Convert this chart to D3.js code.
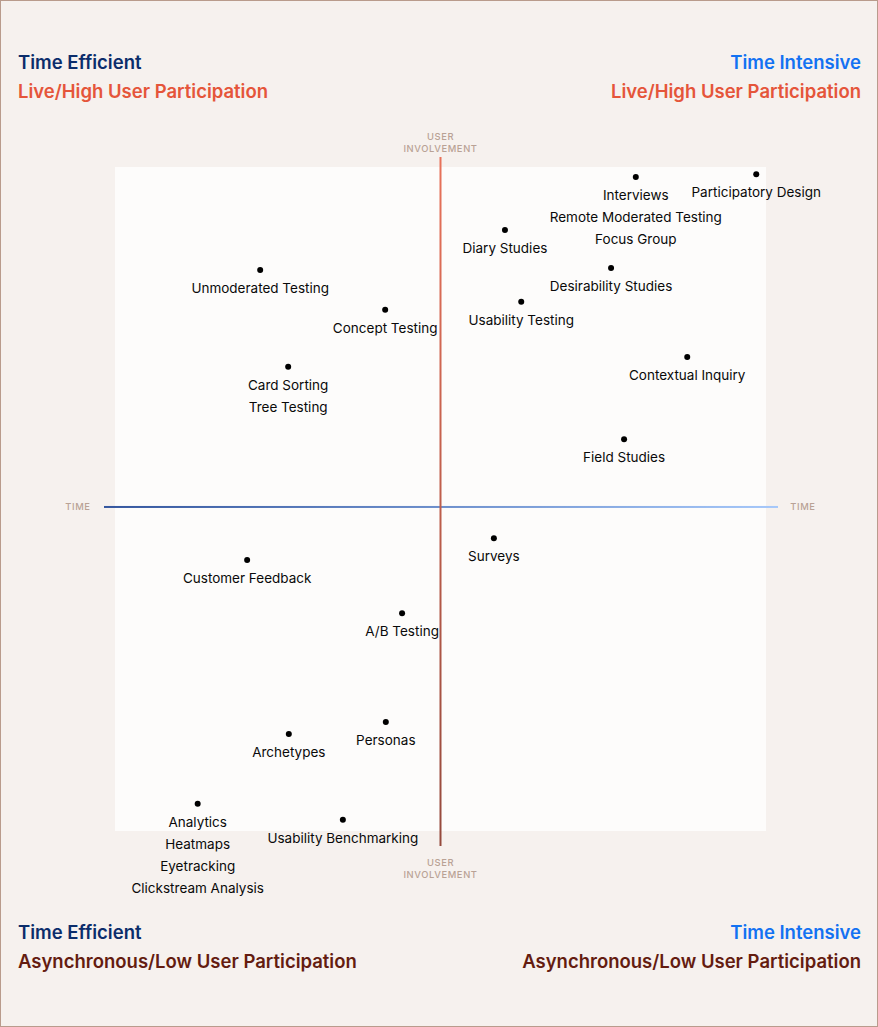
<!DOCTYPE html>
<html>
<head>
<meta charset="utf-8">
<script src="https://cdn.jsdelivr.net/npm/d3@7"></script>
<style>
  html, body { margin: 0; padding: 0; background: #F6F1EE; }
  svg { display: block; font-family: Inter, "Noto Sans", sans-serif; }
</style>
</head>
<body>
<svg width="878" height="1027"></svg>
<script>
// methods: label lines, x (time: efficient -> intensive), y (user involvement)
var methods = [
    ['Interviews', 'Remote Moderated Testing', 'Focus Group'],
    ['Participatory Design'],
    ['Diary Studies'],
    ['Desirability Studies'],
    ['Unmoderated Testing'],
    ['Usability Testing'],
    ['Concept Testing'],
    ['Card Sorting', 'Tree Testing'],
    ['Contextual Inquiry'],
    ['Field Studies'],
    ['Surveys'],
    ['Customer Feedback'],
    ['A/B Testing'],
    ['Personas'],
    ['Archetypes'],
    ['Analytics', 'Heatmaps', 'Eyetracking', 'Clickstream Analysis'],
    ['Usability Benchmarking']
]
var timeValues = [80.0, 98.5, 59.9, 76.2, 22.3, 62.4, 41.5, 26.6, 87.9, 78.2, 58.2, 20.3, 44.1, 41.6, 26.7, 12.7, 35.0]
var involvementValues = [98.5, 98.9, 90.5, 84.8, 84.5, 79.7, 78.5, 69.9, 71.4, 59.0, 44.1, 40.8, 32.8, 16.4, 14.6, 4.1, 1.7]

var xMid = 50
var yMid = 48.8

var svg = d3.select('svg')

// page border
svg.append('rect')
    .attr('x', 0.5)
    .attr('y', 0.5)
    .attr('width', 877)
    .attr('height', 1026)
    .attr('fill', '#F6F1EE')
    .attr('stroke', '#B99B8C')

var x = d3.scaleLinear().domain([0, 100]).range([115, 766])
var y = d3.scaleLinear().domain([0, 100]).range([831, 167])

// plot area
svg.append('rect')
    .attr('x', x(0))
    .attr('y', y(100))
    .attr('width', x(100) - x(0))
    .attr('height', y(0) - y(100))
    .attr('fill', '#FDFCFB')

var defs = svg.append('defs')
var gv = defs.append('linearGradient')
    .attr('id', 'gv')
    .attr('x1', 0).attr('y1', 0).attr('x2', 0).attr('y2', 1)
gv.append('stop').attr('offset', '0%').attr('stop-color', '#E8725A')
gv.append('stop').attr('offset', '100%').attr('stop-color', '#94493C')

var gh = defs.append('linearGradient')
    .attr('id', 'gh')
    .attr('x1', 0).attr('y1', 0).attr('x2', 1).attr('y2', 0)
gh.append('stop').attr('offset', '0%').attr('stop-color', '#34569E')
gh.append('stop').attr('offset', '100%').attr('stop-color', '#A6C8FA')

// axes (rects so gradients render on straight lines)
svg.append('rect')
    .attr('x', x(0) - 11)
    .attr('y', y(yMid) - 1)
    .attr('width', (x(100) + 12) - (x(0) - 11))
    .attr('height', 2)
    .attr('fill', 'url(#gh)')

svg.append('rect')
    .attr('x', x(xMid) - 1)
    .attr('y', y(100) - 10)
    .attr('width', 2)
    .attr('height', (y(0) + 15) - (y(100) - 10))
    .attr('fill', 'url(#gv)')

// axis labels
var axisColor = '#B9A295'
function axisLabel(lines, cx, cy) {
    var t = svg.append('text')
        .attr('text-anchor', 'middle')
        .style('font-size', '9.4px')
        .style('letter-spacing', '0.6px')
        .style('font-weight', 500)
        .attr('fill', axisColor)
    lines.forEach(function (l, i) {
        t.append('tspan')
            .attr('x', cx)
            .attr('y', cy + i * 12 + 3.5)
            .text(l)
    })
}
axisLabel(['USER', 'INVOLVEMENT'], x(xMid), 136)
axisLabel(['USER', 'INVOLVEMENT'], x(xMid), 862)
axisLabel(['TIME'], 78, y(yMid))
axisLabel(['TIME'], 803, y(yMid))

// points
var pts = methods.map(function (m, i) {
    return { lines: m, t: timeValues[i], u: involvementValues[i] }
})

var g = svg.append('g')
    .selectAll('g')
    .data(pts)
    .enter()
    .append('g')
    .attr('transform', function (d) { return 'translate(' + x(d.t) + ',' + y(d.u) + ')' })

g.append('circle')
    .attr('r', 3)
    .attr('fill', '#000')

g.append('text')
    .attr('text-anchor', 'middle')
    .style('font-size', '13.5px')
    .attr('fill', '#0A0A0A')
    .selectAll('tspan')
    .data(function (d) { return d.lines })
    .enter()
    .append('tspan')
    .attr('x', 0)
    .attr('y', function (d, i) { return 23 + i * 22 })
    .text(function (d) { return d })

// corner titles
var corners = [
    { a: 'start', x: 18, y: 62, t: 'Time Efficient', c: '#0B2D6B' },
    { a: 'start', x: 18, y: 91, t: 'Live/High User Participation', c: '#E5553A' },
    { a: 'end', x: 861, y: 62, t: 'Time Intensive', c: '#1372F2' },
    { a: 'end', x: 861, y: 91, t: 'Live/High User Participation', c: '#E5553A' },
    { a: 'start', x: 18, y: 932, t: 'Time Efficient', c: '#0B2D6B' },
    { a: 'start', x: 18, y: 961, t: 'Asynchronous/Low User Participation', c: '#641C10' },
    { a: 'end', x: 861, y: 932, t: 'Time Intensive', c: '#1372F2' },
    { a: 'end', x: 861, y: 961, t: 'Asynchronous/Low User Participation', c: '#641C10' }
]
svg.selectAll('.corner')
    .data(corners)
    .enter()
    .append('text')
    .attr('class', 'corner')
    .attr('x', function (d) { return d.x })
    .attr('y', function (d) { return d.y + 7 })
    .attr('text-anchor', function (d) { return d.a })
    .style('font-size', '18.5px')
    .style('font-weight', 600)
    .attr('fill', function (d) { return d.c })
    .text(function (d) { return d.t })
</script>
</body>
</html>
